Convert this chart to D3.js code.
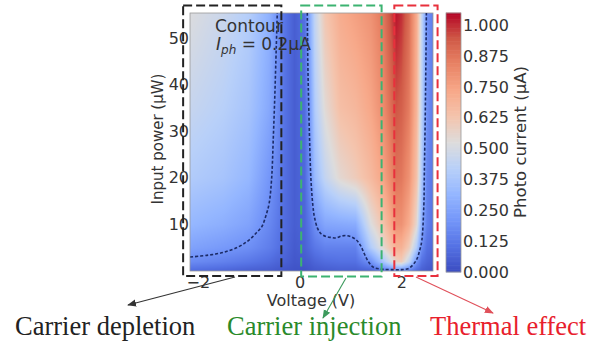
<!DOCTYPE html>
<html>
<head>
<meta charset="utf-8">
<script src="https://cdn.jsdelivr.net/npm/d3@7"></script>
<style>
  body { margin: 0; background: #fff; }
  svg { display: block; }
</style>
</head>
<body>
<svg id="chart" width="589" height="350"></svg>
<script>
// voltage columns (V) and power rows (uW) of the photocurrent map
const voltages = [-2.15, -1.5, -1.0, -0.6, -0.45, -0.3, -0.1, 0.1, 0.2, 0.3, 0.5, 0.8, 1.1, 1.4, 1.65, 1.9, 2.0, 2.15, 2.3, 2.4, 2.5, 2.62];
const powers = [0.3, 2, 5, 10, 20, 35, 55.4];

// photo current (uA), one array per power row
const iph_0p3 = [0.10,0.08,0.06,0.05,0.04,0.03,0.02,0.02,0.03,0.04,0.05,0.06,0.06,0.08,0.16,0.24,0.24,0.18,0.10,0.06,0.04,0.03];
const iph_2   = [0.18,0.15,0.12,0.09,0.07,0.06,0.03,0.04,0.05,0.07,0.09,0.10,0.10,0.20,0.38,0.58,0.60,0.45,0.20,0.10,0.07,0.05];
const iph_5   = [0.25,0.22,0.19,0.14,0.11,0.08,0.04,0.06,0.09,0.12,0.15,0.15,0.15,0.40,0.55,0.70,0.70,0.60,0.40,0.18,0.10,0.08];
const iph_10  = [0.32,0.29,0.25,0.17,0.13,0.09,0.05,0.07,0.12,0.19,0.26,0.27,0.28,0.52,0.64,0.80,0.80,0.72,0.55,0.28,0.15,0.10];
const iph_20  = [0.40,0.37,0.32,0.21,0.16,0.10,0.05,0.08,0.19,0.33,0.45,0.55,0.60,0.67,0.75,0.88,0.87,0.80,0.64,0.38,0.16,0.12];
const iph_35  = [0.46,0.42,0.37,0.27,0.19,0.11,0.05,0.09,0.22,0.40,0.54,0.65,0.68,0.74,0.82,0.95,0.93,0.86,0.69,0.43,0.20,0.13];
const iph_55  = [0.52,0.47,0.41,0.30,0.21,0.12,0.05,0.10,0.28,0.45,0.62,0.72,0.76,0.80,0.88,1.03,1.00,0.90,0.72,0.45,0.20,0.14];
const rows = [iph_0p3, iph_2, iph_5, iph_10, iph_20, iph_35, iph_55];

// Iph = 0.2 uA contour, [V, P]
const contourLeft = [[-2.15,3.0],[-1.8,3.4],[-1.5,4.0],[-1.2,5.2],[-1.0,6.6],[-0.85,8.2],[-0.74,9.6],[-0.66,12],[-0.6,14.5],[-0.55,20],[-0.52,28],[-0.49,37],[-0.46,48],[-0.44,55.4]];
const contourRight = [[0.15,55.4],[0.16,45],[0.18,34.5],[0.22,20],[0.26,14],[0.29,11.6],[0.35,9.2],[0.42,8.0],[0.52,7.4],[0.62,7.2],[0.72,7.1],[0.82,7.5],[0.92,7.6],[1.02,7.3],[1.12,6.6],[1.2,5.4],[1.27,3.7],[1.35,2.0],[1.45,0.8],[1.6,0.4],[1.8,0.3],[2.0,0.3],[2.15,0.6],[2.29,2.3],[2.36,4.5],[2.4,6.5],[2.44,14],[2.45,21],[2.47,35],[2.49,55.4]];

const xTicks = [-2, 0, 2];
const yTicks = [10, 20, 30, 40, 50];
const cbTicks = [0, 0.125, 0.25, 0.375, 0.5, 0.625, 0.75, 0.875, 1.0];

// region boxes [V0, V1, P0, P1]
const regions = [
  { name: "depletion", box: [-2.29, -0.36, -1.1, 57.0], color: "#222" },
  { name: "injection", box: [0.03, 1.61, -1.2, 57.0], color: "#3cb371" },
  { name: "thermal",   box: [1.86, 2.71, -1.1, 57.0], color: "#e8303c" }
];

const svg = d3.select("#chart");
const mLeft = 190, mRight = 433, mTop = 13, mBottom = 271;

const x = d3.scaleLinear().domain([-2.155, 2.62]).range([mLeft, mRight]);
const y = d3.scaleLinear().domain([0, 55.4]).range([mBottom, mTop]);

// coolwarm
const cwStops = ["#3b4cc0","#5572e4","#7496f9","#94b6ff","#b8d0f9","#dddcdc","#f4c4ad","#f7a889","#e98466","#d05a47","#b40426"];
const vmax = 1.05;
const color = d3.scaleLinear()
  .domain(cwStops.map((c, i) => i / (cwStops.length - 1) * vmax))
  .range(cwStops)
  .interpolate(d3.interpolateRgb)
  .clamp(true);

function lookup(arr, v) {
  let i = d3.bisectRight(arr, v) - 1;
  i = Math.max(0, Math.min(arr.length - 2, i));
  let t = (v - arr[i]) / (arr[i + 1] - arr[i]);
  t = Math.max(0, Math.min(1, t));
  return [i, t];
}
function field(v, p) {
  const [i, tx] = lookup(voltages, v);
  const [j, ty] = lookup(powers, p);
  const a = rows[j][i] * (1 - tx) + rows[j][i + 1] * tx;
  const b = rows[j + 1][i] * (1 - tx) + rows[j + 1][i + 1] * tx;
  return a * (1 - ty) + b * ty;
}

// heat map raster
const cw = mRight - mLeft, ch = mBottom - mTop;
const canvas = document.createElement("canvas");
canvas.width = cw; canvas.height = ch;
const ctx = canvas.getContext("2d");
const img = ctx.createImageData(cw, ch);
for (let py = 0; py < ch; py++) {
  const p = y.invert(mTop + py + 0.5);
  for (let px = 0; px < cw; px++) {
    const v = x.invert(mLeft + px + 0.5);
    const c = d3.rgb(color(field(v, p)));
    const k = (py * cw + px) * 4;
    img.data[k] = c.r; img.data[k + 1] = c.g; img.data[k + 2] = c.b; img.data[k + 3] = 255;
  }
}
ctx.putImageData(img, 0, 0);

svg.append("image")
  .attr("x", mLeft).attr("y", mTop)
  .attr("width", cw).attr("height", ch)
  .attr("href", canvas.toDataURL());

svg.append("rect")
  .attr("x", mLeft).attr("y", mTop).attr("width", cw).attr("height", ch)
  .attr("fill", "none").attr("stroke", "#999").attr("stroke-width", 0.8);

// contour lines
const line = d3.line().x(d => x(d[0])).y(d => y(d[1])).curve(d3.curveCatmullRom);
[contourLeft, contourRight].forEach(c => {
  svg.append("path")
    .attr("d", line(c))
    .attr("fill", "none")
    .attr("stroke", "#1c2b66")
    .attr("stroke-width", 1.6)
    .attr("stroke-dasharray", "3,2");
});

// axes
const font = "DejaVu Sans, sans-serif";
const gx = svg.append("g").attr("transform", `translate(0,${mBottom})`)
  .call(d3.axisBottom(x).tickValues(xTicks).tickSize(0).tickPadding(6).tickFormat(d3.format("d")));
const gy = svg.append("g").attr("transform", `translate(${mLeft},0)`)
  .call(d3.axisLeft(y).tickValues(yTicks).tickSize(0).tickPadding(1));
[gx, gy].forEach(g => {
  g.select(".domain").remove();
  g.selectAll("text").attr("font-family", font).attr("font-size", 16).attr("fill", "#333");
});

svg.append("text")
  .attr("transform", `translate(163,139) rotate(-90)`)
  .attr("text-anchor", "middle")
  .attr("font-family", font).attr("font-size", 15).attr("fill", "#333")
  .text("Input power (μW)");

svg.append("text")
  .attr("x", 311).attr("y", 306)
  .attr("text-anchor", "middle")
  .attr("font-family", font).attr("font-size", 16).attr("fill", "#333")
  .text("Voltage (V)");

// colour bar
const cb = d3.scaleLinear().domain([0, vmax]).range([272, 13]);
const cbx = 446, cbw = 15;
const cbSteps = d3.range(0, 200).map(i => i / 200 * vmax);
svg.append("g").selectAll("rect")
  .data(cbSteps)
  .join("rect")
  .attr("x", cbx).attr("width", cbw)
  .attr("y", d => cb(d + vmax / 200) - 0.3)
  .attr("height", d => cb(d) - cb(d + vmax / 200) + 0.6)
  .attr("fill", d => color(d + vmax / 400));
svg.append("rect")
  .attr("x", cbx).attr("y", 13).attr("width", cbw).attr("height", 259)
  .attr("fill", "none").attr("stroke", "#999").attr("stroke-width", 0.8);
const gc = svg.append("g").attr("transform", `translate(${cbx + cbw},0)`)
  .call(d3.axisRight(cb).tickValues(cbTicks).tickSize(0).tickPadding(2).tickFormat(d3.format(".3f")));
gc.select(".domain").remove();
gc.selectAll("text").attr("font-family", font).attr("font-size", 16).attr("fill", "#333");

svg.append("text")
  .attr("transform", `translate(526,142) rotate(-90)`)
  .attr("text-anchor", "middle")
  .attr("font-family", font).attr("font-size", 16.5).attr("fill", "#333")
  .text("Photo current (μA)");

// contour legend text
svg.append("text")
  .attr("x", 215).attr("y", 31.5)
  .attr("font-family", font).attr("font-size", 17).attr("fill", "#333")
  .text("Contour");
const t2 = svg.append("text")
  .attr("x", 216).attr("y", 50)
  .attr("font-family", font).attr("font-size", 17).attr("fill", "#333");
t2.append("tspan").attr("font-style", "italic").text("I");
t2.append("tspan").attr("font-style", "italic").attr("font-size", 12).attr("dy", 4).text("ph");
t2.append("tspan").attr("dy", -4).text(" = 0.2μA");

// region boxes
svg.append("g").selectAll("rect")
  .data(regions)
  .join("rect")
  .attr("x", d => x(d.box[0]))
  .attr("y", d => y(d.box[3]))
  .attr("width", d => x(d.box[1]) - x(d.box[0]))
  .attr("height", d => y(d.box[2]) - y(d.box[3]))
  .attr("fill", "none")
  .attr("stroke", d => d.color)
  .attr("stroke-width", 2)
  .attr("stroke-dasharray", "9,4");

// arrows and captions
const defs = svg.append("defs");
const arrows = [
  { from: [235, 277], to: [128, 305], color: "#333", text: "Carrier depletion", tx: 15, tcolor: "#222" },
  { from: [346, 278], to: [323, 318], color: "#3c9a5c", text: "Carrier injection", tx: 227, tcolor: "#2a8a2a" },
  { from: [416, 277], to: [493, 313], color: "#e0505a", text: "Thermal effect", tx: 430, tcolor: "#e8202c" }
];
arrows.forEach((a, i) => {
  defs.append("marker")
    .attr("id", "ah" + i)
    .attr("viewBox", "0 0 10 10").attr("refX", 9).attr("refY", 5)
    .attr("markerWidth", 9).attr("markerHeight", 9)
    .attr("markerUnits", "userSpaceOnUse")
    .attr("orient", "auto")
    .append("path").attr("d", "M0,1 L10,5 L0,9 Z").attr("fill", a.color);
  svg.append("line")
    .attr("x1", a.from[0]).attr("y1", a.from[1])
    .attr("x2", a.to[0]).attr("y2", a.to[1])
    .attr("stroke", a.color).attr("stroke-width", 1.1)
    .attr("marker-end", `url(#ah${i})`);
  svg.append("text")
    .attr("x", a.tx).attr("y", 335)
    .attr("font-family", "Liberation Serif, Times New Roman, serif")
    .attr("font-size", 26.5)
    .attr("fill", a.tcolor)
    .text(a.text);
});
</script>
</body>
</html>
